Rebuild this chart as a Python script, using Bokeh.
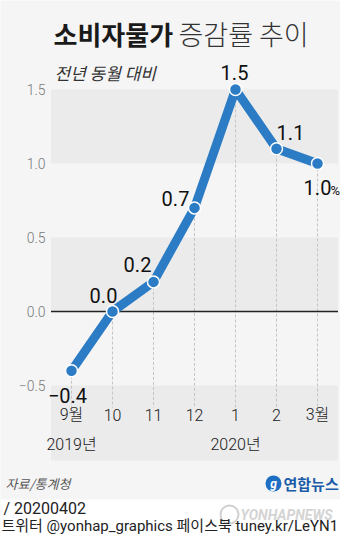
from bokeh.plotting import figure
from bokeh.models import Range1d, BoxAnnotation
from bokeh.core.properties import value
from bokeh.embed import file_html
from bokeh.resources import INLINE

# ---------------- data ----------------
months = ["9월", "10", "11", "12", "1", "2", "3월"]
cpi = [-0.4, 0.0, 0.2, 0.7, 1.5, 1.1, 1.0]
value_labels = ["−0.4", "0.0", "0.2", "0.7", "1.5", "1.1", "1.0"]
y_ticks = [-0.5, 0.0, 0.5, 1.0, 1.5]
y_tick_labels = ["−0.5", "0.0", "0.5", "1.0", "1.5"]
years = ["2019년", "2020년"]
year_month_index = [0, 4]
shaded_bands = [(1.0, 1.5), (0.0, 0.5)]

# ---------------- styles ----------------
BLUE = "#2b7cc4"
BG = "#f5f5f5"
BAND = "#ebebeb"
NUM_FONT = value("Roboto, 'Noto Sans CJK KR', sans-serif")
NUM_LIGHT = value("'Roboto Light', Roboto, 'Noto Sans CJK KR Light', 'Noto Sans CJK KR', sans-serif")
KR_FONT = value("'Noto Sans CJK KR', sans-serif")
KR_LIGHT = value("'Noto Sans CJK KR Light', 'Noto Sans CJK KR', sans-serif")

W, H = 340, 534
X0, DX = 71, 41     # pixel x of first month, spacing between months
Y0, DY = 311, 148   # pixel y of zero, pixels per unit


def px(x):
    return (x - X0) / DX


def py(y):
    return (Y0 - y) / DY


n = len(months)
idx = list(range(n))

p = figure(width=W, height=H, output_backend="svg", toolbar_location=None,
           x_range=Range1d(px(0), px(W)), y_range=Range1d(py(H), py(0)),
           x_axis_location=None, y_axis_location=None, min_border=0,
           background_fill_color=BG, border_fill_color=BG, outline_line_color=None)
p.grid.visible = False

# white footer strip
p.add_layout(BoxAnnotation(top=py(499), fill_color="white", fill_alpha=1,
                           line_color=None, level="underlay"))
# shaded bands
for lo, hi in shaded_bands:
    p.add_layout(BoxAnnotation(bottom=lo, top=hi, left=-0.5, right=n - 0.5,
                               fill_color=BAND, fill_alpha=1, line_color=None,
                               level="underlay"))
p.add_layout(BoxAnnotation(bottom=py(460), top=min(y_ticks), left=-0.5, right=n - 0.5,
                           fill_color=BAND, fill_alpha=1, line_color=None,
                           level="underlay"))

# dashed drop lines
p.segment(x0=idx, y0=cpi, x1=idx, y1=[py(407)] * n, line_color="#c4c4c4",
          line_width=1, line_dash="3 2")
# zero line
p.segment(x0=[-0.5], y0=[0], x1=[n - 0.5], y1=[0], line_color="#222222", line_width=1.5)

# y tick labels
p.text(x=[px(45)] * len(y_ticks), y=y_ticks, text=y_tick_labels, text_font=NUM_LIGHT,
       text_font_size="14px", text_color="#7a7a7a", text_align="right",
       text_baseline="middle")

# series
p.line(idx, cpi, line_color=BLUE, line_width=9, line_join="round")
p.scatter(idx, cpi, size=12, fill_color=BLUE, line_color="white", line_width=1.5)

# value labels
off_x = [-4, -9, -16, -19, -1, 14, 0]
off_y = [25, -16, -17, -9, -17, -16, 24]
p.text(x=idx, y=cpi, text=value_labels, x_offset=off_x, y_offset=off_y,
       text_font=NUM_FONT, text_font_size="20px", text_color="#111111",
       text_align="center", text_baseline="middle")
p.text(x=[idx[-1]], y=[cpi[-1]], text=["%"], x_offset=[13], y_offset=[27],
       text_font=NUM_FONT, text_font_size="13px", text_color="#111111",
       text_align="left", text_baseline="middle")

# month labels
p.text(x=idx, y=[py(414)] * n, text=months, text_font=NUM_LIGHT, text_font_size="16px",
       text_color="#222222", text_align="center", text_baseline="middle")
# year labels
p.text(x=year_month_index, y=[py(444)] * len(years), text=years, text_font=NUM_LIGHT,
       text_font_size="16px", text_color="#222222", text_align="center",
       text_baseline="middle")

# title
p.text(x=[px(53)], y=[py(33)], text=["소비자물가"], text_font=KR_FONT,
       text_font_size="26px", text_font_style="bold", text_color="#1a1a1a",
       text_baseline="middle")
p.text(x=[px(178)], y=[py(33)], text=["증감률 추이"], text_font=KR_LIGHT,
       text_font_size="27px", text_color="#333333", text_baseline="middle")
p.text(x=[px(54)], y=[py(72)], text=["전년 동월 대비"], text_font=KR_FONT,
       text_font_size="17px", text_font_style="italic", text_color="#333333",
       text_baseline="middle")

# source & logo
p.text(x=[px(5)], y=[py(483)], text=["자료/통계청"], text_font=KR_FONT,
       text_font_size="13px", text_font_style="italic", text_color="#555555",
       text_baseline="middle")
p.scatter(x=[px(273)], y=[py(483)], size=16, fill_color="#1e6fc4", line_color=None)
p.text(x=[px(273)], y=[py(483)], text=["g"], text_font=NUM_FONT, text_font_size="12px",
       text_font_style="bold italic", text_color="white", text_align="center",
       text_baseline="middle")
p.text(x=[px(283)], y=[py(483)], text=["연합뉴스"], text_font=KR_FONT,
       text_font_size="15px", text_font_style="bold", text_color="#1b5ca8",
       text_baseline="middle")

# footer
p.scatter(x=[px(229)], y=[py(514)], size=18, fill_color=None, line_color="#d0d0d0",
          line_width=2)
p.text(x=[px(240)], y=[py(514)], text=["YONHAPNEWS"], text_font=NUM_FONT,
       text_font_size="14px", text_font_style="bold italic", text_color="#d4d4d4",
       text_baseline="middle")
p.text(x=[px(3)], y=[py(508)], text=["/ 20200402"], text_font=NUM_FONT,
       text_font_size="16px", text_color="#222222", text_baseline="middle")
p.text(x=[px(1)], y=[py(525)], text=["트위터 @yonhap_graphics 페이스북 tuney.kr/LeYN1"],
       text_font=NUM_FONT, text_font_size="15px", text_color="#222222",
       text_baseline="middle")

open("out.html", "w").write(file_html(p, INLINE))
